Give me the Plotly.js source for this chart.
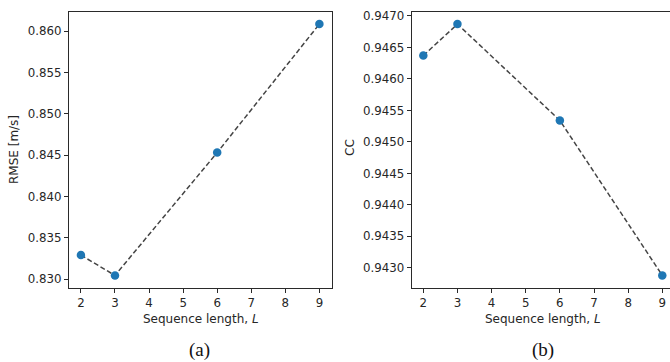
<!DOCTYPE html>
<html>
<head>
<meta charset="utf-8">
<script src="https://cdn.plot.ly/plotly-3.0.1.min.js"></script>
<style>
  html, body { margin: 0; padding: 0; background: #ffffff; }
  #chart { width: 670px; height: 362px; }
</style>
</head>
<body>
<div id="chart"></div>
<script>
// Sequence lengths evaluated
const seqLength = [2, 3, 6, 9];
// (a) RMSE [m/s] per sequence length
const rmse = [0.8329, 0.83044, 0.8453, 0.86084];
// (b) correlation coefficient per sequence length
const cc = [0.94637, 0.94687, 0.94534, 0.94288];

const xTicks = [2, 3, 4, 5, 6, 7, 8, 9];
const rmseTicks = [0.830, 0.835, 0.840, 0.845, 0.850, 0.855, 0.860];
const ccTicks = [0.9430, 0.9435, 0.9440, 0.9445, 0.9450, 0.9455, 0.9460, 0.9465, 0.9470];

const W = 670, H = 362;
const px = x => x / W;
const py = y => 1 - y / H;

const lineStyle = { color: '#454545', width: 1.5, dash: '5px,2.6px' };
const markerStyle = { color: '#1f77b4', size: 8.5 };
const tickFont = { family: 'DejaVu Sans, sans-serif', size: 11.8, color: '#262626' };
const titleFont = { family: 'DejaVu Sans, sans-serif', size: 12, color: '#262626' };

const traces = [
  { x: seqLength, y: rmse, xaxis: 'x', yaxis: 'y', type: 'scatter', mode: 'lines+markers',
    line: lineStyle, marker: markerStyle, showlegend: false },
  { x: seqLength, y: cc, xaxis: 'x2', yaxis: 'y2', type: 'scatter', mode: 'lines+markers',
    line: lineStyle, marker: markerStyle, showlegend: false }
];

const axisCommon = {
  showgrid: false, zeroline: false, showline: true, linecolor: '#2a2a2a', linewidth: 1,
  ticks: 'outside', ticklen: 4, tickwidth: 1, tickcolor: '#2a2a2a',
  tickfont: tickFont, automargin: false, fixedrange: true
};

const layout = {
  width: W, height: H,
  margin: { l: 0, r: 0, t: 0, b: 0, pad: 0 },
  paper_bgcolor: '#ffffff', plot_bgcolor: '#ffffff',
  xaxis: Object.assign({}, axisCommon, {
    domain: [px(69), px(332)], range: [1.65, 9.37],
    tickvals: xTicks, ticktext: xTicks.map(String), mirror: true, anchor: 'y'
  }),
  yaxis: Object.assign({}, axisCommon, {
    domain: [py(288), py(11.5)], range: [0.82892, 0.86236],
    tickvals: rmseTicks, ticktext: rmseTicks.map(v => v.toFixed(3)), mirror: true, anchor: 'x'
  }),
  xaxis2: Object.assign({}, axisCommon, {
    domain: [px(411.7), 1], range: [1.66, 9.226],
    tickvals: xTicks, ticktext: xTicks.map(String), mirror: true, anchor: 'y2'
  }),
  yaxis2: Object.assign({}, axisCommon, {
    domain: [py(288), py(11.5)], range: [0.94268, 0.94707],
    tickvals: ccTicks, ticktext: ccTicks.map(v => v.toFixed(4)), mirror: false, anchor: 'x2'
  }),
  annotations: [
    { text: 'RMSE [m/s]', xref: 'paper', yref: 'paper', x: px(14), y: py(150),
      textangle: -90, showarrow: false, font: titleFont, xanchor: 'center', yanchor: 'middle' },
    { text: 'CC', xref: 'paper', yref: 'paper', x: px(350), y: py(147),
      textangle: -90, showarrow: false, font: titleFont, xanchor: 'center', yanchor: 'middle' },
    { text: 'Sequence length, <i>L</i>', xref: 'paper', yref: 'paper', x: px(200.5), y: py(318.5),
      showarrow: false, font: titleFont, xanchor: 'center', yanchor: 'middle' },
    { text: 'Sequence length, <i>L</i>', xref: 'paper', yref: 'paper', x: px(543), y: py(318.5),
      showarrow: false, font: titleFont, xanchor: 'center', yanchor: 'middle' },
    { text: '(a)', xref: 'paper', yref: 'paper', x: px(199), y: py(350),
      showarrow: false, font: { family: 'Liberation Serif, serif', size: 19, color: '#111111' },
      xanchor: 'center', yanchor: 'middle' },
    { text: '(b)', xref: 'paper', yref: 'paper', x: px(543), y: py(350),
      showarrow: false, font: { family: 'Liberation Serif, serif', size: 19, color: '#111111' },
      xanchor: 'center', yanchor: 'middle' }
  ]
};

Plotly.newPlot('chart', traces, layout, { staticPlot: true, displayModeBar: false });
</script>
</body>
</html>
